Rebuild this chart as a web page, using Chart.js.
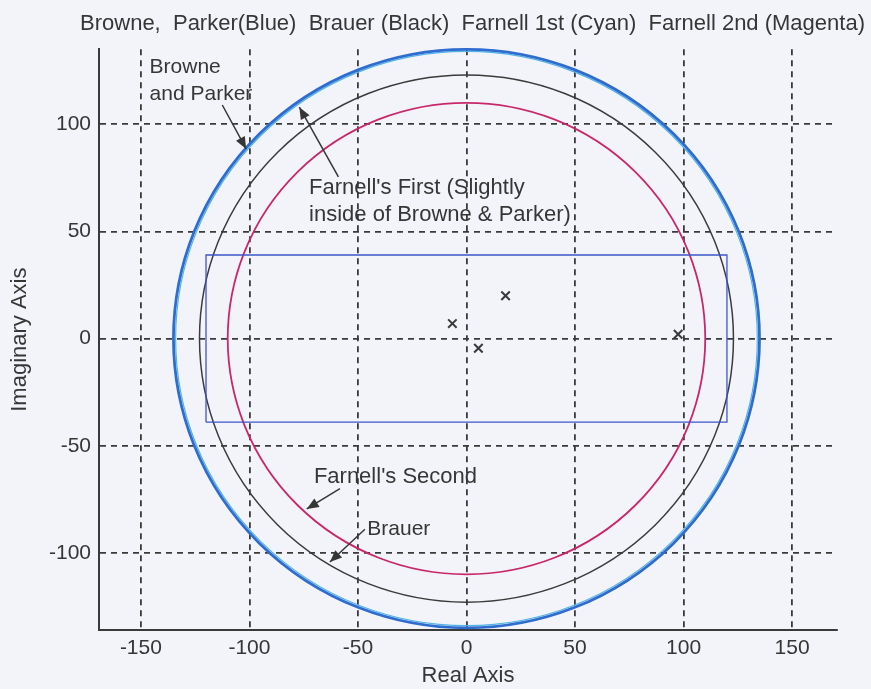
<!DOCTYPE html>
<html>
<head>
<meta charset="utf-8">
<script src="https://cdn.jsdelivr.net/npm/chart.js@4/dist/chart.umd.min.js"></script>
<style>
  html, body { margin: 0; padding: 0; background: #f3f4f9; }
  #wrap { width: 871px; height: 689px; }
</style>
</head>
<body>
<div id="wrap"><canvas id="c" width="871" height="689"></canvas></div>
<script>
// Eigenvalue bound regions in the complex plane (all centred on the origin)
const boundNames = ['Browne, Parker', 'Brauer', 'Farnell 1st', 'Farnell 2nd'];
const boundRadii = [135, 123, 134, 110];

// Eigenvalues of the matrix (real / imaginary parts)
const eigReal = [-6.5, 18, 5.5, 97.5];
const eigImag = [7, 20, -4.5, 2];

// Bendixson-type rectangle: real and imaginary limits
const rectReal = [-120, 120];
const rectImag = [-39, 39];

// Axis ticks
const xTicks = [-150, -100, -50, 0, 50, 100, 150];
const yTicks = [-100, -50, 0, 50, 100];

const HEADER = 'Browne,  Parker(Blue)  Brauer (Black)  Farnell 1st (Cyan)  Farnell 2nd (Magenta)';

const FONT = "'Liberation Sans', Arial, sans-serif";
const INK = '#363636';

const boundStyle = {
  'Browne, Parker': { color: '#2f6ccf', width: 2.8 },
  'Brauer':         { color: '#3b3b3b', width: 1.5 },
  'Farnell 1st':    { color: '#4fb3e6', width: 1.2 },
  'Farnell 2nd':    { color: '#c8286b', width: 1.8 }
};
const drawOrder = ['Farnell 1st', 'Browne, Parker', 'Brauer', 'Farnell 2nd'];

// Labels with pointer arrows (data coordinates)
const notes = [
  { lines: ['Browne', 'and Parker'], size: 21, at: [-146, 124], step: 12.8, tail: [-112.5, 109], tip: [-101.5, 88.5] },
  { lines: ['Farnell\'s First (Slightly', 'inside of Browne & Parker)'], size: 22, at: [-72.5, 67.3], step: 12.2, tail: [-59, 75.5], tip: [-77, 108] },
  { lines: ['Farnell\'s Second'], size: 22, at: [-70.3, -67.4], step: 0, tail: [-58.3, -70], tip: [-73.6, -79.5] },
  { lines: ['Brauer'], size: 21, at: [-45.7, -91.6], step: 0, tail: [-46.8, -89], tip: [-62.9, -104.3] }
];

const boundsPlugin = {
  id: 'bounds',
  beforeDatasetsDraw(chart) {
    const { ctx, scales: { x, y }, chartArea } = chart;
    ctx.save();
    ctx.beginPath();
    ctx.rect(chartArea.left, chartArea.top - 2, chartArea.right - chartArea.left, chartArea.bottom - chartArea.top + 2);
    ctx.clip();
    drawOrder.forEach(name => {
      const r = boundRadii[boundNames.indexOf(name)];
      const cx = x.getPixelForValue(0), cy = y.getPixelForValue(0);
      const rx = x.getPixelForValue(r) - cx;
      const ry = cy - y.getPixelForValue(r);
      ctx.beginPath();
      ctx.ellipse(cx, cy, rx, ry, 0, 0, Math.PI * 2);
      ctx.strokeStyle = boundStyle[name].color;
      ctx.lineWidth = boundStyle[name].width;
      ctx.stroke();
    });
    ctx.restore();
  }
};

const notesPlugin = {
  id: 'notes',
  afterDatasetsDraw(chart) {
    const { ctx, scales: { x, y } } = chart;
    ctx.save();
    ctx.fillStyle = INK;
    ctx.strokeStyle = INK;
    ctx.textBaseline = 'alphabetic';
    ctx.textAlign = 'left';
    notes.forEach(n => {
      ctx.font = n.size + 'px ' + FONT;
      n.lines.forEach((t, i) => {
        ctx.fillText(t, x.getPixelForValue(n.at[0]), y.getPixelForValue(n.at[1] - i * n.step));
      });
      const x0 = x.getPixelForValue(n.tail[0]), y0 = y.getPixelForValue(n.tail[1]);
      const x1 = x.getPixelForValue(n.tip[0]), y1 = y.getPixelForValue(n.tip[1]);
      const a = Math.atan2(y1 - y0, x1 - x0);
      ctx.lineWidth = 1.5;
      ctx.beginPath();
      ctx.moveTo(x0, y0);
      ctx.lineTo(x1, y1);
      ctx.stroke();
      const L = 12, W = 5;
      ctx.beginPath();
      ctx.moveTo(x1, y1);
      ctx.lineTo(x1 - L * Math.cos(a) + W * Math.sin(a), y1 - L * Math.sin(a) - W * Math.cos(a));
      ctx.lineTo(x1 - L * Math.cos(a) - W * Math.sin(a), y1 - L * Math.sin(a) + W * Math.cos(a));
      ctx.closePath();
      ctx.fill();
    });
    ctx.restore();
  }
};

// Heading line above the plot
const headerPlugin = {
  id: 'header',
  afterDraw(chart) {
    const { ctx } = chart;
    ctx.save();
    ctx.fillStyle = INK;
    ctx.font = '22px ' + FONT;
    ctx.textAlign = 'center';
    ctx.textBaseline = 'middle';
    ctx.fillText(HEADER, 472.5, 24);
    ctx.restore();
  }
};

const rectPoints = [
  { x: rectReal[0], y: rectImag[0] }, { x: rectReal[0], y: rectImag[1] },
  { x: rectReal[1], y: rectImag[1] }, { x: rectReal[1], y: rectImag[0] },
  { x: rectReal[0], y: rectImag[0] }
];
const eigPoints = eigReal.map((v, i) => ({ x: v, y: eigImag[i] }));

const gridStyle = { color: '#3a3a3a', lineWidth: 1.8, drawTicks: false };

new Chart(document.getElementById('c'), {
  type: 'scatter',
  data: {
    datasets: [
      {
        label: 'Rectangle',
        data: rectPoints,
        showLine: true,
        borderColor: '#3d55c8',
        borderWidth: 1.3,
        pointRadius: 0,
        tension: 0
      },
      {
        label: 'Eigenvalues',
        data: eigPoints,
        pointStyle: 'crossRot',
        pointRadius: 6,
        borderColor: '#3a3a3a',
        borderWidth: 2,
        showLine: false
      }
    ]
  },
  options: {
    responsive: false,
    animation: false,
    devicePixelRatio: 1,
    layout: { padding: { left: 0, right: 34, top: 49.3, bottom: 0 } },
    plugins: {
      legend: { display: false },
      tooltip: { enabled: false },
      title: { display: false }
    },
    scales: {
      x: {
        type: 'linear',
        min: -169.3,
        max: 170.7,
        afterBuildTicks: s => { s.ticks = xTicks.map(v => ({ value: v })); },
        afterFit: s => { s.height = 59; },
        grid: gridStyle,
        border: { display: true, color: '#3a3a3a', width: 2, dash: [6, 5] },
        ticks: { color: INK, font: { family: FONT, size: 21 }, padding: 6, maxRotation: 0 },
        title: { display: true, text: 'Real Axis', color: INK, font: { family: FONT, size: 22 }, padding: { top: 0, bottom: 0 } }
      },
      y: {
        type: 'linear',
        min: -136,
        max: 135,
        afterBuildTicks: s => { s.ticks = yTicks.map(v => ({ value: v })); },
        afterFit: s => { s.width = 99; },
        grid: gridStyle,
        border: { display: true, color: '#3a3a3a', width: 2, dash: [6, 5] },
        ticks: { color: INK, font: { family: FONT, size: 21 }, padding: 8 },
        title: { display: true, text: 'Imaginary Axis', color: INK, font: { family: FONT, size: 22 }, padding: { top: 7, bottom: 0 } }
      }
    }
  },
  plugins: [boundsPlugin, notesPlugin, headerPlugin]
});
</script>
</body>
</html>
